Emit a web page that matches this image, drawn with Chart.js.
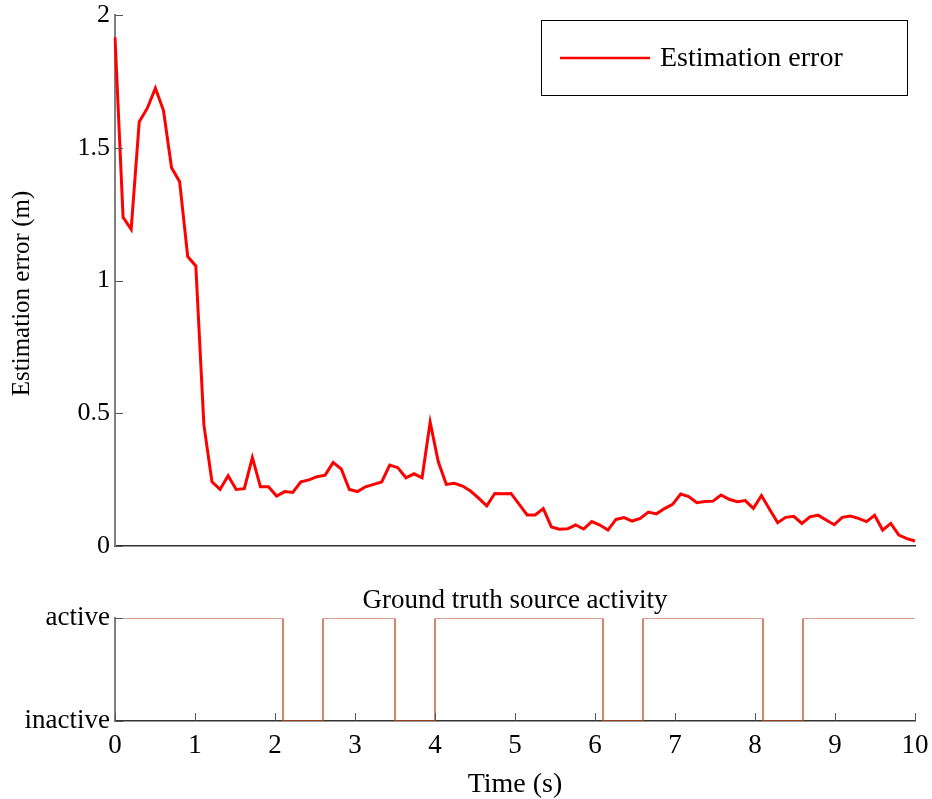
<!DOCTYPE html>
<html>
<head>
<meta charset="utf-8">
<script src="https://cdn.jsdelivr.net/npm/chart.js@4.4.1/dist/chart.umd.min.js"></script>
<style>
  html, body { margin: 0; padding: 0; background: #fff; }
  #wrap { position: relative; width: 932px; height: 799px; }
  #topChart { position: absolute; left: 0; top: 0; }
  #bottomChart { position: absolute; left: 0; top: 570px; }
</style>
</head>
<body>
<div id="wrap">
  <canvas id="topChart" width="932" height="570"></canvas>
  <canvas id="bottomChart" width="932" height="229"></canvas>
</div>
<script>
// estimation error (m), 100 samples spread over 0..10 s
const errorValues = [
  1.916, 1.238, 1.193, 1.598, 1.649, 1.724, 1.640, 1.425, 1.372, 1.090, 1.055, 0.456,
  0.242, 0.213, 0.265, 0.213, 0.216, 0.333, 0.223, 0.223, 0.188, 0.205, 0.202, 0.242,
  0.249, 0.261, 0.267, 0.315, 0.290, 0.213, 0.205, 0.223, 0.232, 0.241,
  0.305, 0.295, 0.257, 0.272, 0.257, 0.466, 0.318, 0.232, 0.236, 0.226, 0.207, 0.180,
  0.151, 0.198, 0.197, 0.198, 0.158, 0.117, 0.117, 0.141,
  0.072, 0.063, 0.065, 0.079, 0.064, 0.092, 0.079, 0.060, 0.100, 0.107, 0.094, 0.104,
  0.128, 0.121, 0.141, 0.157, 0.196, 0.186, 0.163, 0.168, 0.169, 0.192,
  0.176, 0.167, 0.171, 0.142, 0.190, 0.138, 0.088, 0.108, 0.112, 0.085, 0.110, 0.116,
  0.098, 0.080, 0.108, 0.113, 0.104, 0.092, 0.116, 0.060, 0.085, 0.041, 0.028, 0.019
];
const sampleIndex = errorValues.map((_, i) => i);

// ground truth activity: state holds from each time until the next one
const activityTimes = [0, 2.1, 2.6, 3.5, 4.0, 6.1, 6.6, 8.1, 8.6, 10];
const activityState = [1, 0, 1, 0, 1, 0, 1, 0, 1, 1];
const activityLabels = ["inactive", "active"];

const errorTicks = [0, 0.5, 1, 1.5, 2];
const timeTicks = [0, 1, 2, 3, 4, 5, 6, 7, 8, 9, 10];

const SERIF = "'Liberation Serif', 'Times New Roman', serif";
const font = (size) => ({ family: SERIF, size: size, weight: "normal", lineHeight: 1 });

// matlab style ticks pointing into the plot
const inwardTicks = {
  id: "inwardTicks",
  afterDraw(chart, args, opts) {
    const { ctx, chartArea } = chart;
    ctx.save();
    ctx.strokeStyle = "#555";
    ctx.lineWidth = 1;
    (opts.axes || []).forEach(id => {
      const s = chart.scales[id];
      s.ticks.forEach(t => {
        const p = Math.round(s.getPixelForValue(t.value)) + 0.5;
        ctx.beginPath();
        if (s.isHorizontal()) {
          ctx.moveTo(p, chartArea.bottom);
          ctx.lineTo(p, chartArea.bottom - 8);
        } else {
          ctx.moveTo(chartArea.left, p);
          ctx.lineTo(chartArea.left + 8, p);
        }
        ctx.stroke();
      });
    });
    ctx.restore();
  }
};

// rotated y title, sits a bit below the middle like the original
const yTitle = {
  id: "yTitle",
  afterDraw(chart, args, opts) {
    const { ctx, chartArea } = chart;
    ctx.save();
    ctx.translate(opts.x, (chartArea.top + chartArea.bottom) / 2 + opts.shift);
    ctx.rotate(-Math.PI / 2);
    ctx.fillStyle = "#000";
    ctx.font = opts.size + "px " + SERIF;
    ctx.textAlign = "center";
    ctx.textBaseline = "middle";
    ctx.fillText(opts.text, 0, 0);
    ctx.restore();
  }
};

// boxed legend in the top right corner
const legendBox = {
  id: "legendBox",
  afterDraw(chart) {
    const { ctx, chartArea } = chart;
    const ds = chart.data.datasets[0];
    const w = 366, h = 75;
    const x0 = chartArea.right - 8 - w, y0 = chartArea.top + 5;
    ctx.save();
    ctx.fillStyle = "#fff";
    ctx.fillRect(x0, y0, w, h);
    ctx.strokeStyle = "#000";
    ctx.lineWidth = 1;
    ctx.strokeRect(x0 + 0.5, y0 + 0.5, w, h);
    ctx.strokeStyle = ds.borderColor;
    ctx.lineWidth = 2.5;
    ctx.beginPath();
    ctx.moveTo(x0 + 19, y0 + 38);
    ctx.lineTo(x0 + 109, y0 + 38);
    ctx.stroke();
    ctx.fillStyle = "#000";
    ctx.font = "28px " + SERIF;
    ctx.textBaseline = "middle";
    ctx.fillText(ds.label, x0 + 119, y0 + 39);
    ctx.restore();
  }
};

const noSidePad = s => { s.paddingLeft = 0; s.paddingRight = 0; };

const topChart = new Chart(document.getElementById("topChart"), {
  type: "line",
  data: {
    labels: sampleIndex,
    datasets: [{
      label: "Estimation error",
      data: errorValues,
      borderColor: "#ff0000",
      borderWidth: 3,
      pointRadius: 0,
      tension: 0,
      fill: false
    }]
  },
  options: {
    responsive: false,
    animation: false,
    layout: { padding: { top: 15, right: 17, left: 0, bottom: 0 } },
    plugins: {
      legend: { display: false },
      tooltip: { enabled: false },
      inwardTicks: { axes: ["y"] },
      yTitle: { text: "Estimation error (m)", x: 22, shift: 13, size: 25 }
    },
    scales: {
      x: {
        type: "category",
        offset: false,
        ticks: { display: false },
        grid: { display: false, drawTicks: false },
        border: { color: "#333", width: 1.5 },
        afterFit: s => { s.height = 24; noSidePad(s); }
      },
      y: {
        min: 0, max: 2,
        afterBuildTicks: s => { s.ticks = errorTicks.map(v => ({ value: v })); },
        ticks: { padding: 5, color: "#000", font: font(26), callback: v => String(v) },
        grid: { display: false, drawTicks: false },
        border: { color: "#808080", width: 2 },
        afterFit: s => { s.width = 115; s.paddingTop = 0; s.paddingBottom = 0; }
      }
    }
  },
  plugins: [inwardTicks, yTitle, legendBox]
});

const bottomChart = new Chart(document.getElementById("bottomChart"), {
  type: "line",
  data: {
    datasets: [{
      label: "Ground truth source activity",
      data: activityTimes.map((t, i) => ({ x: t, y: activityState[i] })),
      borderColor: "#b8481c",
      borderWidth: 1.3,
      pointRadius: 0,
      stepped: true,
      fill: false
    }]
  },
  options: {
    responsive: false,
    animation: false,
    layout: { padding: { top: 0, right: 17, left: 0, bottom: 0 } },
    plugins: {
      legend: { display: false },
      tooltip: { enabled: false },
      title: {
        display: true, text: "Ground truth source activity", color: "#000",
        font: { family: SERIF, size: 27, weight: "normal", lineHeight: 1.2 },
        padding: { top: 15, bottom: 1 }, fullSize: false
      },
      inwardTicks: { axes: ["x", "y"] }
    },
    scales: {
      x: {
        type: "linear", min: 0, max: 10,
        afterBuildTicks: s => { s.ticks = timeTicks.map(v => ({ value: v })); },
        ticks: { padding: 11, color: "#000", font: font(27), maxRotation: 0 },
        grid: { display: false, drawTicks: false },
        border: { color: "#333", width: 1.5 },
        title: { display: true, text: "Time (s)", color: "#000", font: font(28), padding: { top: 0, bottom: 0 } },
        afterFit: s => { s.height = 78; noSidePad(s); }
      },
      y: {
        min: 0, max: 1,
        afterBuildTicks: s => { s.ticks = activityLabels.map((_, i) => ({ value: i })); },
        ticks: { padding: 5, color: "#000", font: font(27), callback: v => activityLabels[v] },
        grid: { display: false, drawTicks: false },
        border: { color: "#808080", width: 2 },
        afterFit: s => { s.width = 115; }
      }
    }
  },
  plugins: [inwardTicks]
});
</script>
</body>
</html>
